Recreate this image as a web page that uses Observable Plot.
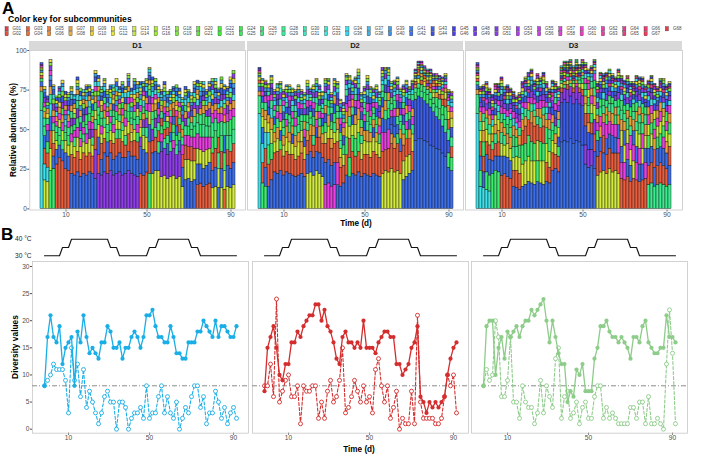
<!DOCTYPE html>
<html><head><meta charset="utf-8">
<script src="https://cdn.jsdelivr.net/npm/d3@7"></script>
<script src="https://cdn.jsdelivr.net/npm/@observablehq/plot@0.6"></script>
<style>
body{margin:0;background:#fff;}
#fig{position:relative;width:709px;height:456px;overflow:hidden;font-family:"Liberation Sans",Arial,Helvetica,sans-serif;}
.t{position:absolute;white-space:nowrap;color:#000;}
</style></head><body><div id="fig"></div>
<script>
// ---------- categories ----------
const days = [2,3,4,5,6,7,8,9,10,
  12,13,15,16,18,19,20,22,23,25,26,27,29,30,32,33,34,36,37,39,40,42,43,45,46,48,50,
  51,53,54,55,57,58,60,61,62,64,65,67,68,69,71,72,74,75,76,78,79,81,82,83,85,86,88,90,
  92];
const xTicks = [10,50,90];
const panels = ["D1","D2","D3"];
const groupLabels = ["G01","G02","G03","G04","G05","G06","G07","G08","G09","G10","G11","G12","G13","G14","G15","G16",
  "G18","G19","G20","G21","G22","G23","G24","G25","G26","G27","G28","G29","G30","G31","G32","G33","G34","G36",
  "G37","G38","G39","G40","G41","G42","G43","G44","G45","G46","G48","G49","G50","G51","G53","G54","G55","G56",
  "G57","G58","G60","G61","G62","G63","G64","G65","G66","G67","G68"];
const temperature = [30,30,30,30,30,30,35,35,35,40,40,40,40,40,40,40,40,40,40,40,40,40,35,35,35,
  30,30,30,30,30,30,30,30,30,30,35,35,35,40,40,40,40,40,40,40,40,40,40,40,35,35,35,
  30,30,30,30,30,30,30,30,30,30,30,30,30];
const tempTicks = [30,40];
const divTicks = [0,5,10,15,20,25,30];
const abTicks = [0,25,50,75,100];
const refLine = [8];

// ---------- panel B series ----------
const solidD1 = [8,17,21,17,16,19,12,15,16,17,8,18,16,21,17,14,15,14,13,16,16,19,18,15,15,16,13,15,15,17,18,17,15,17,21,21,22,19,17,17,16,16,19,17,14,14,13,13,16,16,16,18,18,20,19,18,17,20,17,19,19,18,17,17,19];
const dashedD1 = [8,9,10,12,11,11,11,9,3,15,9,12,6,11,4,7,5,3,1,3,6,7,5,5,0,5,5,4,0,2,3,3,4,2,8,2,3,3,6,8,3,6,3,2,5,0,2,4,3,6,8,8,4,6,1,3,3,7,5,2,4,1,3,4,2];
const solidD2 = [7,15,17,19,15,10,9,12,12,16,16,18,17,19,20,21,21,23,23,20,22,19,18,16,13,12,17,18,16,16,15,16,15,20,15,15,15,14,16,17,18,18,17,17,12,12,10,11,12,15,16,19,6,5,3,5,4,5,4,5,6,10,13,15,16];
const dashedD2 = [8,8,12,6,24,5,7,9,10,6,6,8,1,8,7,7,8,8,2,5,2,7,9,5,6,9,15,3,4,6,9,7,5,8,5,6,3,11,13,8,5,8,2,4,7,0,2,1,1,7,1,21,5,2,2,2,2,1,1,2,6,10,8,10,3];
const solidD3 = [8,19,20,20,10,15,17,13,18,17,18,19,17,19,20,20,22,21,22,23,24,20,16,20,17,14,12,12,5,7,6,11,10,12,7,7,7,13,15,19,19,20,18,17,17,16,17,16,15,13,17,17,16,19,20,16,15,14,14,15,15,21,17,17,16];
const dashedD3 = [8,11,9,10,20,17,6,6,9,17,5,5,2,8,5,4,4,1,3,9,3,8,6,4,13,15,2,6,7,2,3,5,1,4,5,2,2,6,8,8,2,4,2,3,2,1,1,1,1,4,4,2,5,5,1,6,1,1,2,1,0,12,22,14,1];

// ---------- panel A: relative abundance (%) per subcommunity ----------
const d1_G13=[2,18,17,14,8,6,5,6,8,7,8,7,9, 8,7,8,9,7,6,8,6,7,5,6,7,6, 5,7,6,8,6,7,5,6,9,10,8,22,24, 24,20,21,19,20,21,19,20,14,13,12,13,12, 10,9,11,10,9,13,14,12,13,12,14,13,15];
const d1_G03=[2,10,9,11,8,28,32,30,25,24,12,11,13, 11,13,12,12,11,13,12,10,9,11,8,10,11, 9,10,8,11,9,10,11,22,21,23,20,8,9, 7,5,6,5,6,5,6,5,8,9,8,9,8, 15,16,14,15,16,11,12,10,11,12,10,11,12];
const d1_G42=[3,8,7,9,8,9,8,7,10,9,22,21,23, 20,22,21,23,22,19,11,10,12,9,11,10,11, 12,11,10,12,11,12,11,17,16,12,11,13,12, 11,6,5,7,6,5,6,7,12,18,19,17,18, 13,12,11,12,13,11,12,13,12,11,13,12,14];
const d1_G43=[1,3,2,4,3,2,3,4,2,3,4,3,2, 3,4,2,3,4,3,2,3,4,3,2,4,3, 2,3,4,3,2,3,4,2,3,4,3,2,3, 4,2,2,3,2,2,3,2,3,2,3,4,3, 2,4,3,2,3,4,3,2,4,3,2,3,4];
const d1_G51=[1,3,2,3,4,3,2,4,3,3,5,4,6, 5,4,5,6,5,18,22,21,23,22,24,21,22, 23,21,22,24,22,21,20,6,5,6,5,7,6, 5,16,17,15,16,17,15,16,4,5,4,3,4, 5,4,3,4,5,3,4,3,4,3,5,4,3];
const d1_G34=[62,10,9,8,3,3,2,3,4,3,3,2,4, 3,2,3,4,2,3,3,2,3,3,4,2,3, 2,3,3,4,2,3,3,2,4,3,2,4,3, 3,2,3,3,2,2,3,3,2,4,3,2,3, 4,3,2,3,4,3,2,3,4,3,2,3,4];
const d1_G26=[2,6,7,24,25,5,6,4,5,6,5,4,6, 5,4,6,5,4,5,6,5,4,6,5,4,5, 6,4,5,6,4,5,6,5,4,5,22,6,5, 7,5,5,4,6,5,6,5,5,4,6,5,7, 6,8,7,6,7,10,11,9,10,11,9,10,8];
const d1_G07=[3,4,3,5,4,3,4,5,3,4,4,3,3, 4,3,4,3,4,4,3,4,5,3,4,3,3, 4,5,4,3,5,4,3,5,4,4,3,5,4, 3,4,4,3,4,4,3,4,5,4,3,4,5, 3,4,5,3,4,5,4,3,4,5,3,4,5];
const d1_G28=[12,5,4,6,5,4,5,6,4,5,4,6,5, 4,5,6,4,5,6,5,4,6,5,4,5,6, 4,5,6,5,4,6,5,4,5,6,4,5,6, 5,4,6,5,4,5,6,4,5,6,5,4,6, 7,6,8,7,6,9,8,10,9,8,9,10,9];
const d1_G58=[1,3,4,3,4,3,4,5,3,4,5,4,6, 5,4,6,5,4,3,4,5,4,3,4,5,4, 3,4,5,4,3,4,5,4,3,4,5,4,3, 4,5,4,3,4,5,4,3,6,6,7,6,7, 9,8,9,8,7,6,5,6,5,4,5,6,5];
const d1_G11=[1,2,3,2,1,2,3,2,2,1,2,3,2, 3,2,1,2,3,2,2,3,2,1,2,3,2, 2,3,2,1,2,3,2,2,3,2,1,2,3, 2,1,2,3,2,2,3,2,1,2,3,2,2, 3,2,2,1,2,3,2,2,3,2,1,2,3];
const d1_G19=[1,3,2,2,3,1,2,3,2,2,1,3,2, 2,3,2,1,2,3,3,2,1,2,3,2,3, 3,2,1,2,3,2,3,2,2,1,3,2,2, 2,3,2,2,1,3,2,3,2,2,1,2,3, 2,1,3,2,3,2,2,1,2,3,2,3,2];
const d1_G39=[1,2,2,3,2,2,1,2,3,2,2,1,2, 3,2,2,1,2,2,3,2,2,2,1,2,3, 2,2,1,2,3,2,2,3,1,2,2,3,2, 1,2,3,2,2,1,2,2,3,2,1,2,2, 2,3,2,2,1,2,3,2,2,1,2,2,3];

const d2_G13=[2,7,8,6,9,7,8,6,7,9,8,7,8, 9,7,8,22,23,21,24,22,20,7,8,6,7, 8,6,7,9,8,7,9,8,10,9,8,10,9, 8,9,22,24,23,25,23,24,22,12,13,12,11, 2,3,2,3,2,2,3,2,3,2,4,5,6];
const d2_G03=[2,13,12,14,13,12,14,13,12,13,12,13,11, 12,13,11,9,10,8,9,10,9,12,13,11,12, 13,12,11,13,12,14,12,13,11,12,13,12,14, 13,12,14,13,15,16,15,17,14,10,11,10,12, 2,2,3,2,2,3,2,2,3,4,5,6,7];
const d2_G42=[3,10,12,14,18,23,22,24,21,23,22,21,20, 21,22,20,12,13,11,12,13,12,14,15,13,14, 15,14,16,21,20,22,21,23,20,22,21,20,22, 21,20,9,8,7,6,7,6,8,18,20,22,24, 43,44,44,43,42,40,39,38,37,35,33,26,24];
const d2_G43=[1,4,3,5,4,5,4,6,5,4,5,6,4, 5,4,6,5,4,5,6,4,5,6,4,5,6, 4,5,6,5,4,6,5,4,5,6,5,4,6, 5,4,6,5,4,5,6,5,4,6,5,6,5, 26,27,26,25,24,24,22,20,19,17,15,8,6];
const d2_G51=[1,3,2,4,3,2,3,4,2,3,4,3,2, 3,2,4,3,2,3,4,2,3,4,3,2,3, 4,3,2,3,4,2,3,4,3,2,3,4,2, 3,4,2,3,4,3,2,3,4,2,3,4,3, 1,1,1,1,2,1,1,2,1,1,2,2,2];
const d2_G34=[60,12,10,8,6,3,2,3,4,3,2,3,4, 3,2,3,4,2,3,3,2,3,4,3,2,3, 3,4,2,3,3,2,4,3,2,3,4,3,2, 3,2,3,4,3,2,3,3,2,4,3,2,3, 1,1,2,1,1,1,1,2,1,2,2,3,3];
const d2_G26=[2,16,14,12,10,5,4,6,5,4,6,5,4, 5,6,4,5,4,6,5,4,5,6,4,5,6, 4,5,6,11,12,10,11,12,5,4,6,5,4, 5,6,4,5,6,4,5,6,5,4,6,5,6, 4,5,4,5,6,5,4,6,7,6,8,9,8];
const d2_G07=[3,5,6,5,7,6,7,5,6,7,6,5,7, 6,7,5,6,7,6,5,7,6,5,7,6,5, 7,6,5,7,6,5,6,7,5,6,7,6,5, 6,5,7,6,5,6,7,5,6,7,5,6,5, 2,2,2,2,2,3,2,3,2,3,3,4,4];
const d2_G28=[11,4,5,3,5,4,6,4,5,3,5,4,6, 5,4,3,5,4,6,4,5,3,4,5,4,6, 4,5,3,4,6,5,4,3,5,4,6,5,4, 5,3,4,6,5,4,3,5,4,6,5,3,4, 3,3,4,4,3,4,5,6,6,7,8,7,6];
const d2_G58=[1,3,4,3,4,3,4,5,3,4,3,4,5, 4,3,5,4,3,4,5,4,3,15,16,14,15, 14,4,3,5,4,3,4,5,3,4,5,4,3, 4,5,12,11,12,4,5,4,3,4,5,4,5, 1,1,1,1,1,1,2,1,1,2,2,2,3];
const d2_G11=[1,2,1,2,2,1,2,1,2,2,1,2,1, 2,1,2,2,1,2,1,2,2,1,2,1,2, 1,2,2,1,2,1,2,2,1,2,2,1,2, 2,1,2,1,2,2,1,2,1,2,2,1,1, 1,1,1,1,1,1,1,1,1,1,1,1,1];
const d2_G19=[1,2,2,1,2,2,1,2,1,2,2,1,2, 1,2,1,2,2,1,2,2,1,2,1,2,2, 2,1,2,2,1,2,1,2,2,1,2,2,1, 1,2,2,1,2,1,2,2,1,2,1,1,1, 1,1,2,1,1,1,2,1,1,2,1,1,2];
const d2_G39=[1,1,2,2,1,2,2,1,2,1,2,2,1, 2,2,1,2,1,2,2,1,2,2,1,2,1, 1,2,2,1,2,2,1,2,1,2,2,1,2, 2,1,2,2,1,2,2,1,2,1,2,1,1, 1,2,1,1,1,2,1,1,2,1,1,1,2];

const d3_G13=[2,7,6,8,7,5,6,7,8,7,9,8,8, 9,10,14,15,16,14,15,13,14,15,12,10,8, 7,6,3,2,3,2,3,2,3,4,6,5,6, 9,21,23,24,22,25,23,24,22,10,11,9,10, 11,10,9,10,8,7,8,6,7,8,6,7,8];
const d3_G03=[2,9,10,8,9,7,8,9,21,22,20,19,10, 11,10,9,11,10,12,11,10,9,11,12,10,11, 9,10,3,2,3,2,3,2,3,4,8,6,7, 11,12,13,11,12,13,12,11,13,19,18,20,17, 19,18,17,18,19,12,13,11,12,13,12,11,12];
const d3_G42=[3,9,10,11,10,8,9,10,12,11,12,11,14, 13,12,14,15,17,16,15,17,16,15,17,16,24, 25,23,42,43,42,44,41,43,42,40,28,26,27, 25,10,9,11,10,9,11,10,9,10,9,11,10, 9,10,11,10,9,11,10,12,11,10,11,10,12];
const d3_G43=[1,3,4,3,4,3,4,3,4,3,4,3,4, 3,4,3,4,3,4,3,4,3,4,3,4,5, 5,6,25,26,25,27,25,26,24,25,12,11,10, 11,3,4,3,4,3,4,3,4,3,4,3,4, 3,4,3,4,3,4,3,4,3,4,3,4,3];
const d3_G51=[1,3,2,4,3,2,3,2,4,3,2,3,2, 3,4,2,3,2,4,3,2,3,4,2,3,4, 5,4,6,7,8,6,7,8,7,6,12,11,10, 9,4,3,2,4,3,2,3,4,2,3,4,3, 2,3,4,3,2,3,4,2,3,2,3,4,3];
const d3_G34=[60,14,13,12,11,4,3,4,3,4,3,4,5, 4,3,4,3,2,3,4,3,2,3,4,3,2, 3,2,1,2,1,2,1,2,1,2,3,2,3, 2,3,2,4,3,2,3,2,3,4,2,3,2, 3,2,4,3,2,3,4,3,2,3,4,2,3];
const d3_G26=[2,10,9,11,10,22,24,23,6,5,6,5,7, 6,8,12,11,13,12,11,13,12,11,10,8,6, 5,6,2,1,2,1,2,1,2,3,4,5,6, 5,6,5,4,6,5,4,6,5,6,5,7,6, 5,6,7,6,5,8,7,6,7,8,7,6,7];
const d3_G07=[3,6,7,5,6,5,6,7,6,5,6,7,6, 5,6,7,6,5,7,6,5,6,7,5,6,5, 6,5,1,2,1,2,1,2,1,2,5,6,5, 6,5,7,6,5,6,7,5,6,7,6,5,6, 7,6,5,6,7,5,6,7,5,6,5,7,6];
const d3_G28=[12,6,5,7,6,5,6,5,7,6,5,6,7, 6,5,4,5,6,5,4,5,6,5,4,6,5, 4,5,1,2,1,2,1,1,2,2,4,5,4, 5,4,6,5,4,5,6,4,5,6,5,4,6, 5,6,5,7,6,15,16,14,15,16,15,14,15];
const d3_G58=[1,3,4,3,4,3,2,3,4,3,4,3,4, 3,4,3,4,3,4,3,4,5,4,3,4,3, 4,3,1,1,2,1,1,2,1,1,3,4,5, 4,5,6,8,9,8,7,8,9,10,11,10,9, 10,11,10,9,10,6,5,6,5,6,7,6,5];
const d3_G11=[1,2,1,2,1,2,2,1,2,1,2,2,1, 2,1,2,1,2,2,1,2,1,2,2,1,2, 1,2,1,1,1,1,1,1,1,1,2,1,2, 2,1,2,2,1,2,1,2,2,1,2,1,2, 1,2,2,1,2,1,2,2,1,2,1,2,1];
const d3_G19=[1,1,2,2,1,2,1,2,2,1,2,1,2, 1,2,2,1,2,1,2,2,1,2,1,2,1, 2,1,1,1,1,1,1,1,1,1,1,2,1, 1,2,1,2,2,1,2,1,2,1,2,2,1, 2,1,2,2,1,2,1,2,2,1,2,1,2];
const d3_G39=[1,2,2,1,2,1,2,1,2,2,1,2,1, 2,1,2,2,1,2,1,2,2,1,2,1,2, 1,2,1,1,1,1,1,1,1,1,1,1,2, 2,1,2,1,2,2,1,2,1,2,1,2,1, 1,2,1,2,1,2,2,1,2,1,2,2,1];
const d3_G48=[1,1,1,2,1,1,2,1,1,2,1,1,2, 1,2,1,1,2,1,1,2,1,1,2,1,1, 2,1,1,1,1,1,1,1,1,1,2,1,1, 1,1,2,1,1,2,1,1,2,1,1,2,1, 1,2,1,1,2,1,1,2,1,1,2,1,1];
const d3_G64=[1,1,2,1,1,2,1,1,1,2,1,1,1, 2,1,1,1,2,1,1,1,2,1,1,1,2, 1,1,1,1,1,1,1,1,1,1,1,2,1, 1,2,1,1,1,2,1,1,1,2,1,1,2, 1,1,2,1,1,1,2,1,1,1,2,1,1];

// ---------- build tables ----------
const layers = {
  D1: [["G13",d1_G13],["G03",d1_G03],["G42",d1_G42],["G43",d1_G43],["G51",d1_G51],["G34",d1_G34],["G26",d1_G26],["G07",d1_G07],["G28",d1_G28],["G58",d1_G58],["G11",d1_G11],["G19",d1_G19],["G39",d1_G39]],
  D2: [["G13",d2_G13],["G03",d2_G03],["G42",d2_G42],["G43",d2_G43],["G51",d2_G51],["G34",d2_G34],["G26",d2_G26],["G07",d2_G07],["G28",d2_G28],["G58",d2_G58],["G11",d2_G11],["G19",d2_G19],["G39",d2_G39]],
  D3: [["G13",d3_G13],["G03",d3_G03],["G42",d3_G42],["G43",d3_G43],["G51",d3_G51],["G34",d3_G34],["G26",d3_G26],["G07",d3_G07],["G28",d3_G28],["G58",d3_G58],["G11",d3_G11],["G19",d3_G19],["G39",d3_G39],["G48",d3_G48],["G64",d3_G64]]
};
const solids = {D1: solidD1, D2: solidD2, D3: solidD3};
const dasheds = {D1: dashedD1, D2: dashedD2, D3: dashedD3};

// ---------- style ----------
const FONT = '"Liberation Sans", Arial, Helvetica, sans-serif';
function hsv(h, s, v) {
  const f = n => { const k = (n + h * 6) % 6; return v - v * s * Math.max(0, Math.min(k, 4 - k, 1)); };
  return d3.rgb(f(5) * 255, f(3) * 255, f(1) * 255).formatHex();
}
const palette = groupLabels.map((g, k) => hsv(k / groupLabels.length, 0.74, 0.92));
const seriesColor = {D1: "#1aaee6", D2: "#d42d2d", D3: "#8dcc89"};

const fig = document.getElementById("fig");
function place(el, left, top) { el.style.position = "absolute"; el.style.left = left + "px"; el.style.top = top + "px"; fig.appendChild(el); }
function text(str, x, y, size, opts = {}) {
  const d = document.createElement("div");
  d.className = "t"; d.textContent = str;
  d.style.fontSize = size + "px"; d.style.fontWeight = "bold";
  d.style.left = x + "px"; d.style.top = y + "px";
  d.style.lineHeight = (opts.lh || size) + "px";
  let tr = opts.center ? "translate(-50%,-50%)" : "";
  if (opts.rotate) tr += " rotate(-90deg)";
  d.style.transform = tr;
  fig.appendChild(d);
}

// ---------- titles ----------
text("A", 2, 2.6, 17, {lh: 12});
text("Color key for subcommunities", 8, 15, 8.6, {lh: 9});
text("B", 1, 229, 17, {lh: 12});
text("Relative abundance (%)", 13, 130, 8.4, {center: true, rotate: true});
text("Time (d)", 356, 223.5, 8.2, {center: true});
text("Diversity values", 15, 347, 8.4, {center: true, rotate: true});
text("Time (d)", 359, 449.5, 8.2, {center: true});

// ---------- legend ----------
const leg = d3.create("svg").attr("width", 709).attr("height", 20).style("overflow", "visible");
groupLabels.forEach((g, k) => {
  const c = Math.floor(k / 2), r = k % 2;
  const x = 5 + c * 21.3, y = 6.6 + r * 4.9;
  leg.append("rect").attr("x", x).attr("y", y).attr("width", 3.2).attr("height", 4.3)
    .attr("fill", palette[k]).attr("stroke", "#333").attr("stroke-width", 0.35);
  leg.append("text").attr("x", x + 7.6).attr("y", y + 3.6).attr("font-size", 4.5)
    .attr("font-family", FONT).attr("fill", "#444").text(g);
});
place(leg.node(), 0, 20);

// ---------- panel A ----------
const geoA = {D1: {left: 0, width: 245, ml: 29.3}, D2: {left: 247, width: 216, ml: 0}, D3: {left: 465, width: 217, ml: 0}};
panels.forEach((p, pi) => {
  const g = geoA[p];
  const strip = document.createElement("div");
  strip.className = "t";
  Object.assign(strip.style, {left: (g.left + g.ml) + "px", top: "40.7px", width: (g.width - g.ml) + "px", height: "9.3px",
    background: "#d9d9d9", textAlign: "center", fontSize: "7.6px", fontWeight: "bold", lineHeight: "9.6px", color: "#1a1a1a"});
  strip.textContent = p;
  fig.appendChild(strip);

  const rows = [];
  layers[p].forEach(([grp, vals]) => vals.forEach((v, i) => rows.push({day: days[i], g: grp, v})));
  const chart = Plot.plot({
    width: g.width, height: 171.5,
    marginLeft: g.ml, marginRight: 0, marginTop: 0, marginBottom: 12,
    style: {fontSize: "6.6px", fontFamily: FONT, color: "#4d4d4d", background: "transparent", overflow: "visible"},
    x: {type: "band", domain: days, paddingInner: 0.1, paddingOuter: 0.9, ticks: xTicks, tickSize: 2, tickPadding: 0, label: null},
    y: {domain: [-0.7, 100], ticks: abTicks, tickSize: 2, tickPadding: 1, label: null, axis: pi === 0 ? "left" : null},
    color: {domain: groupLabels, range: palette},
    marks: [
      Plot.frame({stroke: "#c8c8c8", strokeWidth: 0.8}),
      Plot.barY(rows, Plot.stackY({order: "value", reverse: true},
        {x: "day", y: "v", fill: "g", stroke: "#141414", strokeWidth: 0.45}))
    ]
  });
  place(chart, g.left, 50);
});

// ---------- panel B ----------
const geoB = {D1: {left: 0, width: 248, ml: 32}, D2: {left: 251.7, width: 216, ml: 0}, D3: {left: 470.7, width: 216, ml: 0}};
panels.forEach((p, pi) => {
  const g = geoB[p];
  const col = seriesColor[p];
  const tRows = temperature.map((t, i) => ({day: days[i], t}));
  const tchart = Plot.plot({
    width: g.width, height: 24.3,
    marginLeft: g.ml, marginRight: 0, marginTop: 4.7, marginBottom: 3,
    style: {fontSize: "6.6px", fontFamily: FONT, color: "#1a1a1a", background: "transparent", overflow: "visible"},
    x: {type: "point", domain: days, padding: 1.25, axis: null},
    y: {domain: [30, 40], ticks: tempTicks, tickSize: 0, tickPadding: 1, tickFormat: d => d + " °C", label: null, axis: pi === 0 ? "left" : null},
    marks: [Plot.line(tRows, {x: "day", y: "t", stroke: "#111", strokeWidth: 1.1})]
  });
  place(tchart, g.left, 234);

  const sRows = solids[p].map((v, i) => ({day: days[i], v}));
  const dRows = dasheds[p].map((v, i) => ({day: days[i], v}));
  const chart = Plot.plot({
    width: g.width, height: 183.7,
    marginLeft: g.ml, marginRight: 0, marginTop: 0, marginBottom: 12,
    style: {fontSize: "6.6px", fontFamily: FONT, color: "#4d4d4d", background: "transparent", overflow: "visible"},
    x: {type: "point", domain: days, padding: 1.25, ticks: xTicks, tickSize: 2, tickPadding: 0.5, label: null},
    y: {domain: [-0.74, 30.92], ticks: divTicks, tickSize: 2, tickPadding: 1, label: null, axis: pi === 0 ? "left" : null},
    marks: [
      Plot.frame({stroke: "#c8c8c8", strokeWidth: 0.8}),
      Plot.ruleY(refLine, {stroke: "#8c8c8c", strokeWidth: 1, strokeDasharray: "5,2,1,2"}),
      Plot.line(dRows, {x: "day", y: "v", stroke: col, strokeWidth: 1.1, strokeDasharray: "3,2"}),
      Plot.dot(dRows, {x: "day", y: "v", r: 2, stroke: col, fill: "white", strokeWidth: 0.9}),
      Plot.line(sRows, {x: "day", y: "v", stroke: col, strokeWidth: 1.3}),
      Plot.dot(sRows, {x: "day", y: "v", r: 2.1, fill: col})
    ]
  });
  place(chart, g.left, 261.3);
});
</script></body></html>
